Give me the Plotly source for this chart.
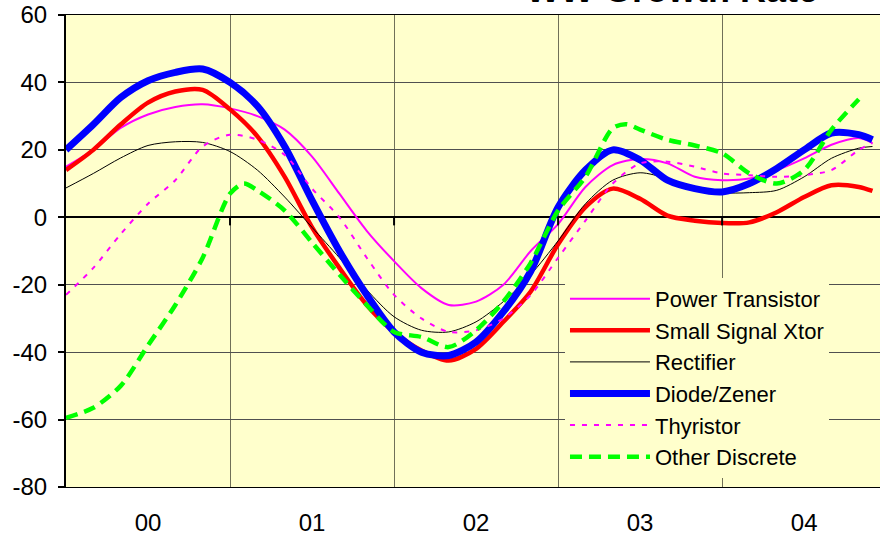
import plotly.graph_objects as go

# months since Jan 2000 (bimonthly readings)
months = [0, 2, 4, 6, 8, 10, 12, 14, 16, 18, 20, 22, 24, 26, 28, 30,
          32, 34, 36, 38, 40, 42, 44, 46, 48, 50, 52, 54, 56, 58, 59]
months_other = [0, 2, 4, 6, 8, 10, 12, 13, 14, 16, 18, 20, 22, 24, 26, 28, 30,
                32, 34, 36, 38, 40, 41, 42, 44, 46, 48, 50, 52, 54, 56, 58]

power_transistor = [15, 20, 26.5, 30.5, 32.7, 33.5, 32.3, 30, 26, 18, 7, -4, -13, -21, -26, -25,
                    -20, -10, -2, 9, 15.5, 17.3, 16, 12, 11, 11.5, 14, 17.5, 21.5, 23.5, 22]
small_signal = [14, 20, 27.5, 34, 37.3, 37.8, 32, 24, 12, -3, -15, -26, -34, -39.5, -42.5, -39,
                -31, -22, -8, 3, 8.5, 5.5, 0.5, -1, -1.7, -1.5, 1.5, 6, 9.5, 9, 7.8]
rectifier = [8.7, 13, 17.6, 21.3, 22.4, 22.2, 19.5, 14, 6, -3, -12, -21.5, -29.5, -33.5, -34, -31,
             -25, -17, -7, 4, 11, 13.2, 11.5, 9, 7.3, 7.3, 8, 12, 17.5, 20.5, 21]
diode_zener = [20, 27.5, 35.5, 40.5, 43, 44, 40, 33, 21, 5, -10, -23, -34, -40, -41, -37,
               -28, -16, 3, 14, 20, 17, 11, 8.5, 7.5, 10, 14.5, 20, 25, 24.5, 23]
thyristor = [-23, -15, -5, 4, 11, 21, 24.5, 23, 18.5, 8.5, 0, -12, -23, -30, -34, -33.5,
             -30, -23, -12, -1, 10, 16, 16.5, 15, 13, 12.5, 12, 12.5, 14, 20, 22]
other_discrete = [-59.5, -56.5, -50, -38, -26, -12, 7, 10, 8, 2, -7.5, -17, -26, -34, -35.5, -38.5, -33.5,
                  -25, -13.5, 2, 12, 26.4, 27.6, 26, 23, 21.3, 19, 13, 10, 14, 26, 35]

year_centers = [6, 18, 30, 42, 54]
year_labels = ['00', '01', '02', '03', '04']
year_bounds = [12, 24, 36, 48]
y_ticks = [-80, -60, -40, -20, 0, 20, 40, 60]
y_labels = ['-80', '-60', '-40', '-20', '0', '20', '40', '60']

series = [
    ('Power Transistor', months, power_transistor, '#FF00FF', 2, 'solid'),
    ('Small Signal Xtor', months, small_signal, '#FF0000', 4.5, 'solid'),
    ('Rectifier', months, rectifier, '#000000', 1, 'solid'),
    ('Diode/Zener', months, diode_zener, '#0000FF', 7, 'solid'),
    ('Thyristor', months, thyristor, '#FF00FF', 2, '5px,7px'),
    ('Other Discrete', months_other, other_discrete, '#00FF00', 4.5, '12px,7px'),
]

fig = go.Figure()
for name, xs, ys, color, width, dash in series:
    fig.add_trace(go.Scatter(x=xs, y=ys, name=name, mode='lines',
                             line=dict(color=color, width=width, dash=dash, shape='spline', smoothing=0.8)))

# small tick marks on the zero line at the year boundaries
for xb in year_bounds:
    fig.add_shape(type='line', xref='x', yref='y', x0=xb, x1=xb, y0=0, y1=-2.4,
                  line=dict(color='black', width=2))

fig.add_annotation(text='<b>WW Growth Rate</b>', xref='paper', yref='paper', x=0.745, y=1.053,
                   xanchor='center', yanchor='middle', showarrow=False,
                   font=dict(family='Arial, Liberation Sans', size=36, color='black'))

fig.update_layout(
    width=880, height=536,
    margin=dict(l=66, r=0, t=15, b=49),
    paper_bgcolor='white',
    plot_bgcolor='#FFFFCC',
    font=dict(family='Arial, Liberation Sans', size=24, color='black'),
    showlegend=True,
    legend=dict(x=0.613, y=0.443, xanchor='left', yanchor='top', bgcolor='#FFFFCC',
                font=dict(size=22), itemwidth=80, tracegroupgap=0),
)
fig.update_xaxes(range=[0, 59.55], tickvals=year_centers, ticktext=year_labels, ticks='',
                 ticklabelstandoff=14,
                 showgrid=False, zeroline=False, showline=True, linecolor='black', linewidth=1,
                 mirror=True,
                 minor=dict(tickvals=year_bounds, showgrid=True, gridcolor='#707058', gridwidth=1))
fig.update_yaxes(range=[-80, 60], tickvals=y_ticks, ticktext=y_labels, showgrid=True,
                 gridcolor='#505050', gridwidth=1, ticklabelstandoff=6,
                 zeroline=True, zerolinecolor='black', zerolinewidth=2,
                 showline=True, linecolor='black', linewidth=2, ticks='outside', ticklen=6,
                 tickwidth=2, tickcolor='black')

fig.write_html("out.html", config={'displayModeBar': False},
               post_script="document.body.style.margin='0';")
